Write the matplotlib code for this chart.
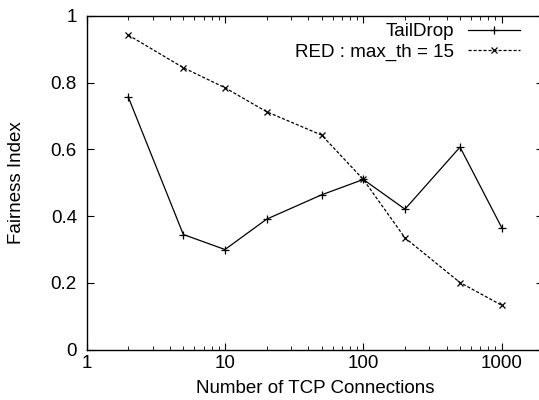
import matplotlib
matplotlib.use('Agg')
import matplotlib.pyplot as plt
from matplotlib.ticker import LogLocator, FixedLocator, NullFormatter

# data
connections = [2, 5, 10, 20, 50, 100, 200, 500, 1000]
taildrop = [0.757, 0.345, 0.300, 0.391, 0.464, 0.510, 0.421, 0.607, 0.366]
red_15 = [0.943, 0.845, 0.785, 0.713, 0.643, 0.510, 0.335, 0.201, 0.133]

x_ticks = [1, 10, 100, 1000]
x_labels = ['1', '10', '100', '1000']
y_ticks = [0, 0.2, 0.4, 0.6, 0.8, 1.0]
y_labels = ['0', '0.2', '0.4', '0.6', '0.8', '1']

plt.rcParams['font.family'] = ['Liberation Sans', 'DejaVu Sans']
fsize = 13.5

fig = plt.figure(figsize=(5.39, 4.0), dpi=100)
ax = fig.add_axes([0.1607, 0.126, 0.8473, 0.834])

ax.plot(connections, taildrop, color='black', linewidth=0.9, linestyle='-',
        marker='+', markersize=6, markeredgewidth=0.9, label='TailDrop')
ax.plot(connections, red_15, color='black', linewidth=0.9, linestyle=(0, (2.5, 1.5)),
        marker='x', markersize=4.5, markeredgewidth=0.9, label='RED : max_th = 15')

ax.set_xscale('log')
ax.set_xlim(1, 2000)
ax.set_ylim(0, 1)
ax.xaxis.set_major_locator(FixedLocator(x_ticks))
ax.set_xticklabels(x_labels)
ax.xaxis.set_minor_locator(LogLocator(base=10, subs=range(2, 10)))
ax.xaxis.set_minor_formatter(NullFormatter())
ax.set_yticks(y_ticks)
ax.set_yticklabels(y_labels)

ax.tick_params(which='both', direction='in', top=True, right=True, labelsize=fsize)
ax.tick_params(which='major', length=5, width=0.8)
ax.tick_params(which='minor', length=3, width=0.6)
ax.tick_params(axis='x', pad=4)
ax.tick_params(axis='y', pad=7)
for s in ax.spines.values():
    s.set_linewidth(1.0)

ax.set_xlabel('Number of TCP Connections', fontsize=fsize, labelpad=6)
ax.set_ylabel('Fairness Index', fontsize=fsize)
ax.yaxis.set_label_coords(-0.135, 0.5)

leg = ax.legend(loc='upper right', bbox_to_anchor=(0.949, 0.978), frameon=False,
                markerfirst=False, handlelength=2.8, handletextpad=0.7,
                labelspacing=0.17, borderaxespad=0, borderpad=0, fontsize=fsize)

fig.savefig('out.png', dpi=100)
